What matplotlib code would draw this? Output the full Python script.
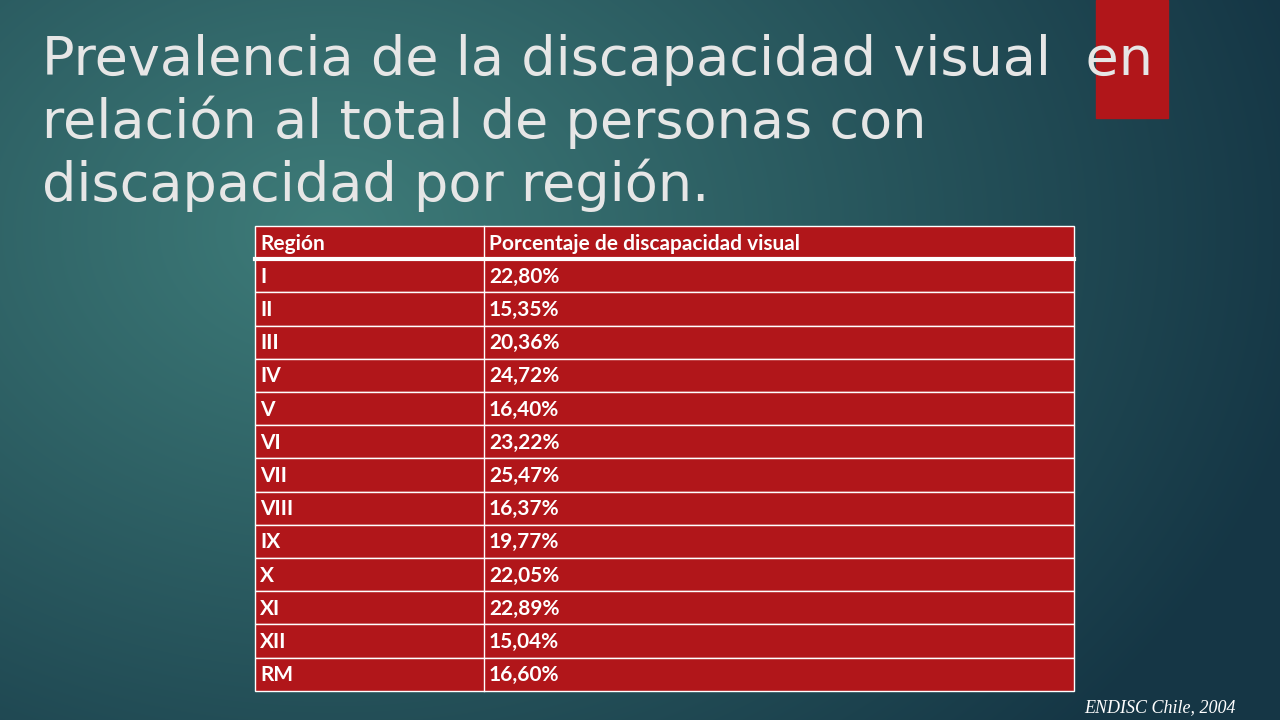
import numpy as np
import matplotlib.pyplot as plt
from matplotlib.patches import Rectangle

title_lines = ["Prevalencia de la discapacidad visual  en",
               "relación al total de personas con",
               "discapacidad por región."]
header = ["Región", "Porcentaje de discapacidad visual"]
regions = ["I", "II", "III", "IV", "V", "VI", "VII", "VIII", "IX", "X", "XI", "XII", "RM"]
percents = ["22,80%", "15,35%", "20,36%", "24,72%", "16,40%", "23,22%", "25,47%",
            "16,37%", "19,77%", "22,05%", "22,89%", "15,04%", "16,60%"]
source = "ENDISC Chile, 2004"

W, H = 1280, 720
fig = plt.figure(figsize=(12.8, 7.2), dpi=100)
ax = fig.add_axes([0, 0, 1, 1])
ax.set_xlim(0, W)
ax.set_ylim(H, 0)
ax.axis('off')

# radial background gradient
yy, xx = np.mgrid[0:H, 0:W]
d = np.sqrt(((xx - 330) / 1000.0) ** 2 + ((yy - 230) / 750.0) ** 2)
t = np.clip(d, 0, 1)[..., None]
inner = np.array([0x3e, 0x7c, 0x79]) / 255.0
outer = np.array([0x15, 0x36, 0x45]) / 255.0
bg = inner * (1 - t) + outer * t
ax.imshow(bg, extent=(0, W, H, 0), zorder=0)

red = '#b1161a'
ax.add_patch(Rectangle((1096, 0), 72, 118, color=red, zorder=1))

for i, line in enumerate(title_lines):
    ax.text(42, 75 + i * 63, line, fontsize=39, color='#e6e6e6',
            family='DejaVu Sans', va='baseline', zorder=3)

# table
x0, x1, xs = 255, 1074, 484
y0, rh = 226, 33.2
rows = [header] + [[r, p] for r, p in zip(regions, percents)]
for i, (a, b) in enumerate(rows):
    y = y0 + i * rh
    ax.add_patch(Rectangle((x0, y), x1 - x0, rh, facecolor=red,
                           edgecolor='white', lw=1, zorder=2))
    ax.text(x0 + 5, y + rh / 2 + 1, a, fontsize=15, fontweight='bold',
            color='white', family='Lato', va='center', zorder=3)
    ax.text(xs + 5, y + rh / 2 + 1, b, fontsize=15, fontweight='bold',
            color='white', family='Lato', va='center', zorder=3)
ax.plot([xs, xs], [y0, y0 + len(rows) * rh], color='white', lw=1, zorder=3)
ax.plot([x0, x1], [y0 + rh, y0 + rh], color='white', lw=3, zorder=3)

ax.text(1236, 712, source, fontsize=13, style='italic', color='white',
        family='Liberation Serif', ha='right', va='baseline', zorder=3)

fig.savefig('out.png', dpi=100)
